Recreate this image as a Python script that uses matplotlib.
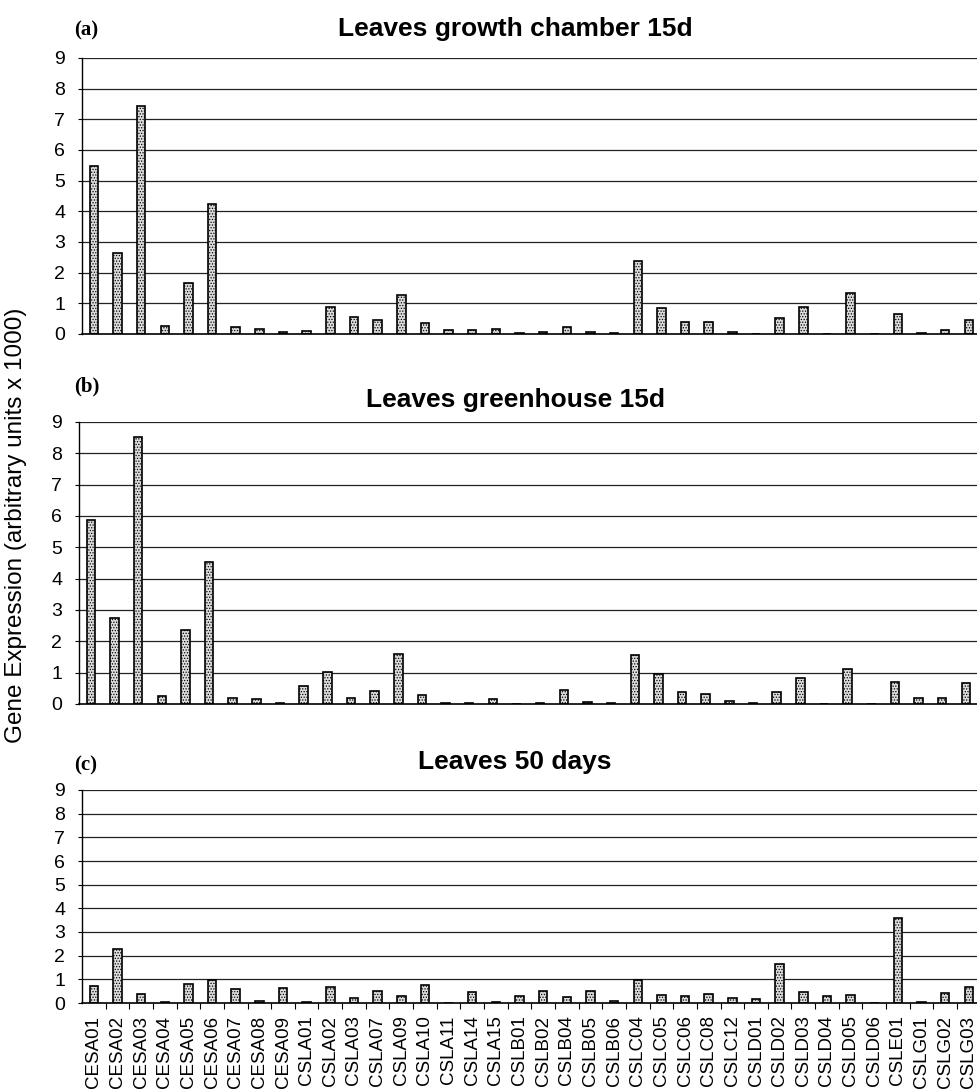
import matplotlib
matplotlib.use("Agg")
import matplotlib.pyplot as plt
import numpy as np

genes = ["CESA01", "CESA02", "CESA03", "CESA04", "CESA05", "CESA06", "CESA07", "CESA08", "CESA09",
         "CSLA01", "CSLA02", "CSLA03", "CSLA07", "CSLA09", "CSLA10", "CSLA11", "CSLA14", "CSLA15",
         "CSLB01", "CSLB02", "CSLB04", "CSLB05", "CSLB06", "CSLC04", "CSLC05", "CSLC06", "CSLC08",
         "CSLC12", "CSLD01", "CSLD02", "CSLD03", "CSLD04", "CSLD05", "CSLD06", "CSLE01", "CSLG01",
         "CSLG02", "CSLG03"]

growth_chamber_15d = [5.47, 2.64, 7.45, 0.25, 1.66, 4.25, 0.22, 0.17, 0.08,
                      0.10, 0.87, 0.55, 0.46, 1.26, 0.36, 0.12, 0.12, 0.15,
                      0.03, 0.07, 0.22, 0.07, 0.03, 2.39, 0.85, 0.39, 0.38,
                      0.08, 0.0, 0.52, 0.89, 0.0, 1.34, 0.0, 0.66, 0.04,
                      0.14, 0.46]

greenhouse_15d = [5.88, 2.74, 8.52, 0.26, 2.36, 4.53, 0.18, 0.17, 0.03,
                  0.59, 1.03, 0.18, 0.43, 1.60, 0.29, 0.04, 0.04, 0.17,
                  0.0, 0.03, 0.45, 0.07, 0.03, 1.57, 0.96, 0.39, 0.31,
                  0.10, 0.03, 0.37, 0.82, 0.0, 1.11, 0.0, 0.71, 0.19,
                  0.18, 0.68]

leaves_50_days = [0.71, 2.30, 0.37, 0.03, 0.82, 0.96, 0.59, 0.08, 0.65,
                  0.06, 0.69, 0.20, 0.52, 0.28, 0.75, 0.01, 0.48, 0.03,
                  0.30, 0.52, 0.25, 0.51, 0.07, 0.99, 0.34, 0.30, 0.37,
                  0.21, 0.18, 1.64, 0.48, 0.30, 0.35, 0.01, 3.61, 0.04,
                  0.44, 0.69]

titles = ["Leaves growth chamber 15d", "Leaves greenhouse 15d", "Leaves 50 days"]
panel_labels = ["(a)", "(b)", "(c)"]
yticks = list(range(0, 10))
ylabel = "Gene Expression (arbitrary units x 1000)"

plt.rcParams["hatch.color"] = "#a8a8a8"
plt.rcParams["hatch.linewidth"] = 0.6

W, H = 978, 1089
fig = plt.figure(figsize=(W / 100, H / 100), dpi=100)
sans = "Liberation Sans"
serif = "Liberation Serif"

# axes boxes in pixels: left, top, bottom
boxes = [(82, 58, 334), (79, 422, 704), (82, 790, 1003)]
title_pos = [(515, 29), (515, 400), (515, 762)]
label_pos = [(74, 30), (74, 386), (74, 765)]
series = [growth_chamber_15d, greenhouse_15d, leaves_50_days]

x = np.arange(len(genes))
for i, (vals, (l, t, b)) in enumerate(zip(series, boxes)):
    ax = fig.add_axes([l / W, 1 - b / H, 1 - l / W, (b - t) / H])
    ax.set_ylim(0, 9)
    ax.set_xlim(-0.5, (W - l) / 23.65 - 0.5)
    ax.set_yticks(yticks)
    for yv in yticks[1:]:
        ax.axhline(yv, color="#222222", lw=0.9, zorder=0)
    ax.bar(x, vals, width=0.36, color="#dcdcdc", edgecolor="black", linewidth=1.2, zorder=2,
           hatch="......")
    for s in ["top", "right"]:
        ax.spines[s].set_visible(False)
    ax.spines["left"].set_linewidth(1.0)
    ax.spines["bottom"].set_linewidth(1.2)
    ax.tick_params(axis="y", length=3, width=0.8, pad=9, labelsize=14)
    for lab in ax.get_yticklabels():
        lab.set_fontfamily(sans)
    if i == 2:
        ax.set_xticks(x)
        ax.set_xticklabels(genes, rotation=90, fontsize=13.5, fontfamily=sans)
        ax.tick_params(axis="x", length=0, pad=9)
        ax.set_xticks(x[:-1] + 0.5, minor=True)
        ax.tick_params(axis="x", which="minor", length=4, width=0.8)
    else:
        ax.set_xticks([])
    fig.text(title_pos[i][0] / W, 1 - title_pos[i][1] / H, titles[i], ha="center", va="center",
             fontsize=19, fontweight="bold", fontfamily=sans)
    fig.text(label_pos[i][0] / W, 1 - label_pos[i][1] / H, panel_labels[i], ha="left", va="center",
             fontsize=15, fontweight="bold", fontfamily=serif)

fig.text(16 / W, 1 - 525 / H, ylabel, rotation=90, ha="center", va="center",
         fontsize=17.5, fontfamily=sans)

fig.savefig("out.png", dpi=100)
